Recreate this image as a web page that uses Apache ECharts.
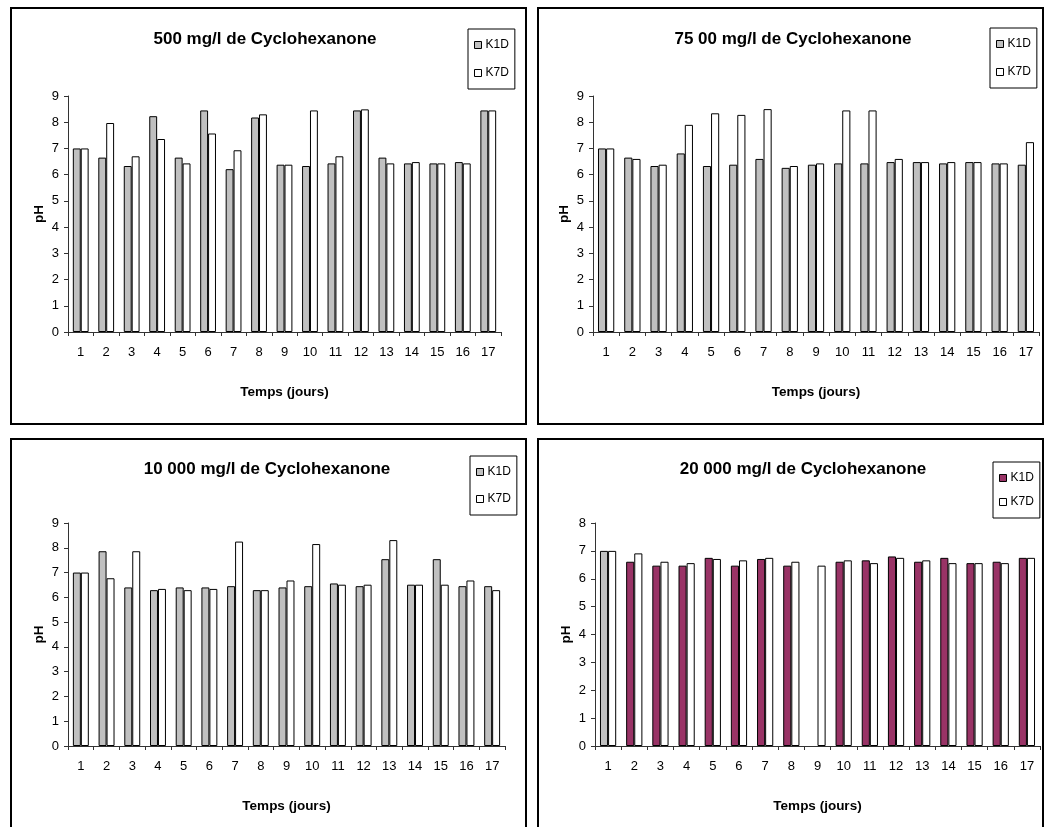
<!DOCTYPE html>
<html>
<head>
<meta charset="utf-8">
<title>pH - Cyclohexanone</title>
<script src="https://cdn.jsdelivr.net/npm/echarts@6/dist/echarts.min.js"></script>
<style>
  html, body { margin: 0; padding: 0; background: #fff; }
  body { width: 1048px; height: 827px; position: relative; overflow: hidden; }
  .panel { position: absolute; }
</style>
</head>
<body>
<div id="p1" class="panel" style="left:10px;top:7px;width:517px;height:418px"></div>
<div id="p2" class="panel" style="left:537px;top:7px;width:507px;height:418px"></div>
<div id="p3" class="panel" style="left:10px;top:438px;width:517px;height:400px"></div>
<div id="p4" class="panel" style="left:537px;top:438px;width:507px;height:400px"></div>
<script>
// Days of measurement
const days = ['1','2','3','4','5','6','7','8','9','10','11','12','13','14','15','16','17'];

// pH, 500 mg/l
const k1d500 = [7.0, 6.65, 6.33, 8.23, 6.65, 8.45, 6.21, 8.18, 6.38, 6.33, 6.43, 8.45, 6.65, 6.43, 6.43, 6.48, 8.45];
const k7d500 = [7.0, 7.97, 6.70, 7.36, 6.43, 7.57, 6.93, 8.30, 6.38, 8.45, 6.70, 8.49, 6.43, 6.48, 6.43, 6.43, 8.45];

// pH, 7500 mg/l
const k1d7500 = [7.0, 6.65, 6.33, 6.81, 6.33, 6.38, 6.60, 6.26, 6.38, 6.43, 6.43, 6.48, 6.48, 6.43, 6.48, 6.43, 6.38];
const k7d7500 = [7.0, 6.60, 6.38, 7.90, 8.34, 8.28, 8.50, 6.33, 6.43, 8.45, 8.45, 6.60, 6.48, 6.48, 6.48, 6.43, 7.24];

// pH, 10 000 mg/l
const k1d10000 = [7.0, 7.86, 6.40, 6.29, 6.40, 6.40, 6.45, 6.29, 6.40, 6.45, 6.56, 6.45, 7.54, 6.51, 7.54, 6.45, 6.45];
const k7d10000 = [7.0, 6.77, 7.86, 6.34, 6.29, 6.34, 8.25, 6.29, 6.68, 8.15, 6.51, 6.51, 8.31, 6.51, 6.51, 6.68, 6.29];

// pH, 20 000 mg/l (no K1D reading on day 9)
const k1d20000 = [7.0, 6.61, 6.47, 6.47, 6.75, 6.47, 6.71, 6.47, null, 6.61, 6.66, 6.80, 6.61, 6.75, 6.56, 6.61, 6.75];
const k7d20000 = [7.0, 6.91, 6.61, 6.56, 6.71, 6.66, 6.75, 6.61, 6.47, 6.66, 6.56, 6.75, 6.66, 6.56, 6.56, 6.56, 6.75];

const GRAY = '#C0C0C0';
const WHITE = '#FFFFFF';
const PLUM = '#993366';
const FONT = '"Liberation Sans", Arial, sans-serif';

function panel(el, cfg) {
  const chart = echarts.init(document.getElementById(el), null, { renderer: 'canvas' });
  const w = chart.getWidth();
  const h = chart.getHeight();
  chart.setOption({
    animation: false,
    backgroundColor: '#fff',
    textStyle: { fontFamily: FONT, color: '#000' },
    graphic: [{
      type: 'rect',
      shape: { x: 1, y: 1, width: w - 2, height: h - 2 },
      style: { fill: null, stroke: '#000', lineWidth: 2 },
      silent: true
    }],
    title: {
      text: cfg.title,
      left: cfg.titleX,
      top: cfg.titleY,
      textAlign: 'center',
      textStyle: { fontFamily: FONT, fontSize: 17, fontWeight: 'bold', color: '#000' }
    },
    legend: {
      orient: 'vertical',
      left: cfg.legend[0],
      top: cfg.legend[1],
      itemWidth: 7,
      itemHeight: 7,
      itemGap: cfg.legendGap,
      padding: [cfg.legendPad, 6, cfg.legendPad, 6],
      icon: 'rect',
      borderColor: '#000',
      borderWidth: 1,
      textStyle: { fontFamily: FONT, fontSize: 12, color: '#000', padding: [0, 0, 0, -1] },
      data: [
        { name: 'K1D', itemStyle: { color: cfg.k1Color, borderColor: '#000', borderWidth: 1 } },
        { name: 'K7D', itemStyle: { color: WHITE, borderColor: '#000', borderWidth: 1 } }
      ]
    },
    grid: {
      left: cfg.grid[0], top: cfg.grid[1], width: cfg.grid[2], height: cfg.grid[3],
      containLabel: false
    },
    xAxis: {
      type: 'category',
      data: days,
      name: 'Temps (jours)',
      nameLocation: 'middle',
      nameGap: 53,
      nameMoveOverlap: false,
      nameTextStyle: { fontFamily: FONT, fontSize: 13.5, fontWeight: 'bold', color: '#000' },
      axisLine: { lineStyle: { color: '#333', width: 1 } },
      axisTick: { show: true, interval: 0, length: 4, lineStyle: { color: '#333' } },
      axisLabel: { interval: 0, margin: 14, fontFamily: FONT, fontSize: 13, color: '#000' },
      splitLine: { show: false }
    },
    yAxis: {
      type: 'value',
      min: 0,
      max: cfg.yMax,
      interval: 1,
      name: 'pH',
      nameLocation: 'middle',
      nameRotate: 90,
      nameGap: 22,
      nameMoveOverlap: false,
      nameTextStyle: { fontFamily: FONT, fontSize: 13.5, fontWeight: 'bold', color: '#000' },
      axisLine: { show: true, lineStyle: { color: '#333', width: 1 } },
      axisTick: { show: true, length: 4, lineStyle: { color: '#333' } },
      axisLabel: { margin: 9, fontFamily: FONT, fontSize: 13, color: '#000' },
      splitLine: { show: false }
    },
    series: [
      {
        name: 'K1D',
        type: 'bar',
        data: cfg.k1,
        barWidth: '31%',
        barGap: '0%',
        itemStyle: { color: cfg.k1Color, borderColor: '#000', borderWidth: 1 }
      },
      {
        name: 'K7D',
        type: 'bar',
        data: cfg.k7,
        barWidth: '31%',
        barGap: '0%',
        itemStyle: { color: WHITE, borderColor: '#000', borderWidth: 1 }
      }
    ]
  });
}

panel('p1', {
  title: '500 mg/l de Cyclohexanone', titleX: 250, titleY: 19,
  legend: [458, 22], legendGap: 16, legendPad: 10,
  grid: [58, 89, 433, 236], yMax: 9,
  k1: k1d500, k7: k7d500, k1Color: GRAY
});

panel('p2', {
  title: '75 00 mg/l de Cyclohexanone', titleX: 251, titleY: 19,
  legend: [453, 21], legendGap: 16, legendPad: 10,
  grid: [56, 89, 446, 236], yMax: 9,
  k1: k1d7500, k7: k7d7500, k1Color: GRAY
});

panel('p3', {
  title: '10 000 mg/l de Cyclohexanone', titleX: 252, titleY: 18,
  legend: [460, 18], legendGap: 15, legendPad: 10,
  grid: [58, 85, 437, 223], yMax: 9,
  k1: k1d10000, k7: k7d10000, k1Color: GRAY
});

// day 1 of the 20 000 mg/l K1D series is the grey control bar
const k1d20000Data = k1d20000.map((v, i) => i === 0 ? { value: v, itemStyle: { color: GRAY } } : v);

panel('p4', {
  title: '20 000 mg/l de Cyclohexanone', titleX: 261, titleY: 18,
  legend: [456, 24], legendGap: 12, legendPad: 10,
  grid: [58, 85, 445, 223], yMax: 8,
  k1: k1d20000Data, k7: k7d20000, k1Color: PLUM
});
</script>
</body>
</html>
